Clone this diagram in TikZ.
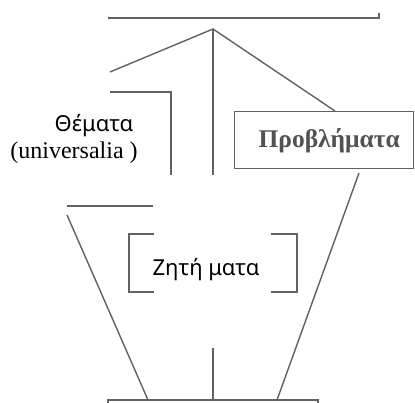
\documentclass[tikz,border=0pt]{standalone}
\usepackage{fontspec}
\setmainfont{Liberation Serif}
\newfontfamily\greeksans{Noto Sans}
\begin{document}
\begin{tikzpicture}[x=1pt,y=-1pt,
  stroke/.style={draw=black!62, line width=1.4pt},
  sanslabel/.style={font=\greeksans\fontsize{22}{25}\selectfont, inner sep=0pt, anchor=base},
  seriflabel/.style={font=\fontsize{24}{27}\selectfont, inner sep=0pt, anchor=base},
  boxlabel/.style={font=\bfseries\fontsize{25.5}{28}\selectfont, text=black!68, inner sep=0pt}]
\useasboundingbox (0,0) rectangle (415,403);

% junction points of the tree
\coordinate (apex) at (213,29);
\coordinate (leftarm) at (110,72);

% upper box edge with its corner tick
\draw[stroke] (108,18) -- (379,18) -- (379,13);

% problems box
\node[stroke, rectangle, minimum width=179pt, minimum height=57pt, anchor=north west,
      inner sep=0pt] (prob) at (234,111) {};
\node[boxlabel] (probtext) at ([xshift=5pt,yshift=-1pt]prob.center) {Προβλήματα};

% branches from the apex
\draw[stroke] (leftarm) -- (apex) -- (prob.north -| 335,0);
\draw[stroke] (apex) -- (213,175);

% corner bracket beside the topics
\draw[stroke] (110,92) -- (171,92) -- (171,175);

% labels on the left
\node[sanslabel] (topics) at (94,132) {Θέματα};
\node[seriflabel] (univ) at (74,159) {(universalia )};

% funnel walls
\draw[stroke] (67,206) -- (153,206);
\draw[stroke] (67,215) -- (148,400);
\draw[stroke] (359,173) -- (277,400);

% brackets round the questions
\draw[stroke] (154,234) -- (129,234) -- (129,292) -- (154,292);
\draw[stroke] (271,234) -- (297,234) -- (297,292) -- (271,292);
\node[sanslabel] (quest) at (206,276) {Ζητή ματα};

% lower stem and box edge
\draw[stroke] (213,348) -- (213,400);
\draw[stroke] (108,404) -- (108,400) -- (318,400) -- (318,404);
\end{tikzpicture}
\end{document}
